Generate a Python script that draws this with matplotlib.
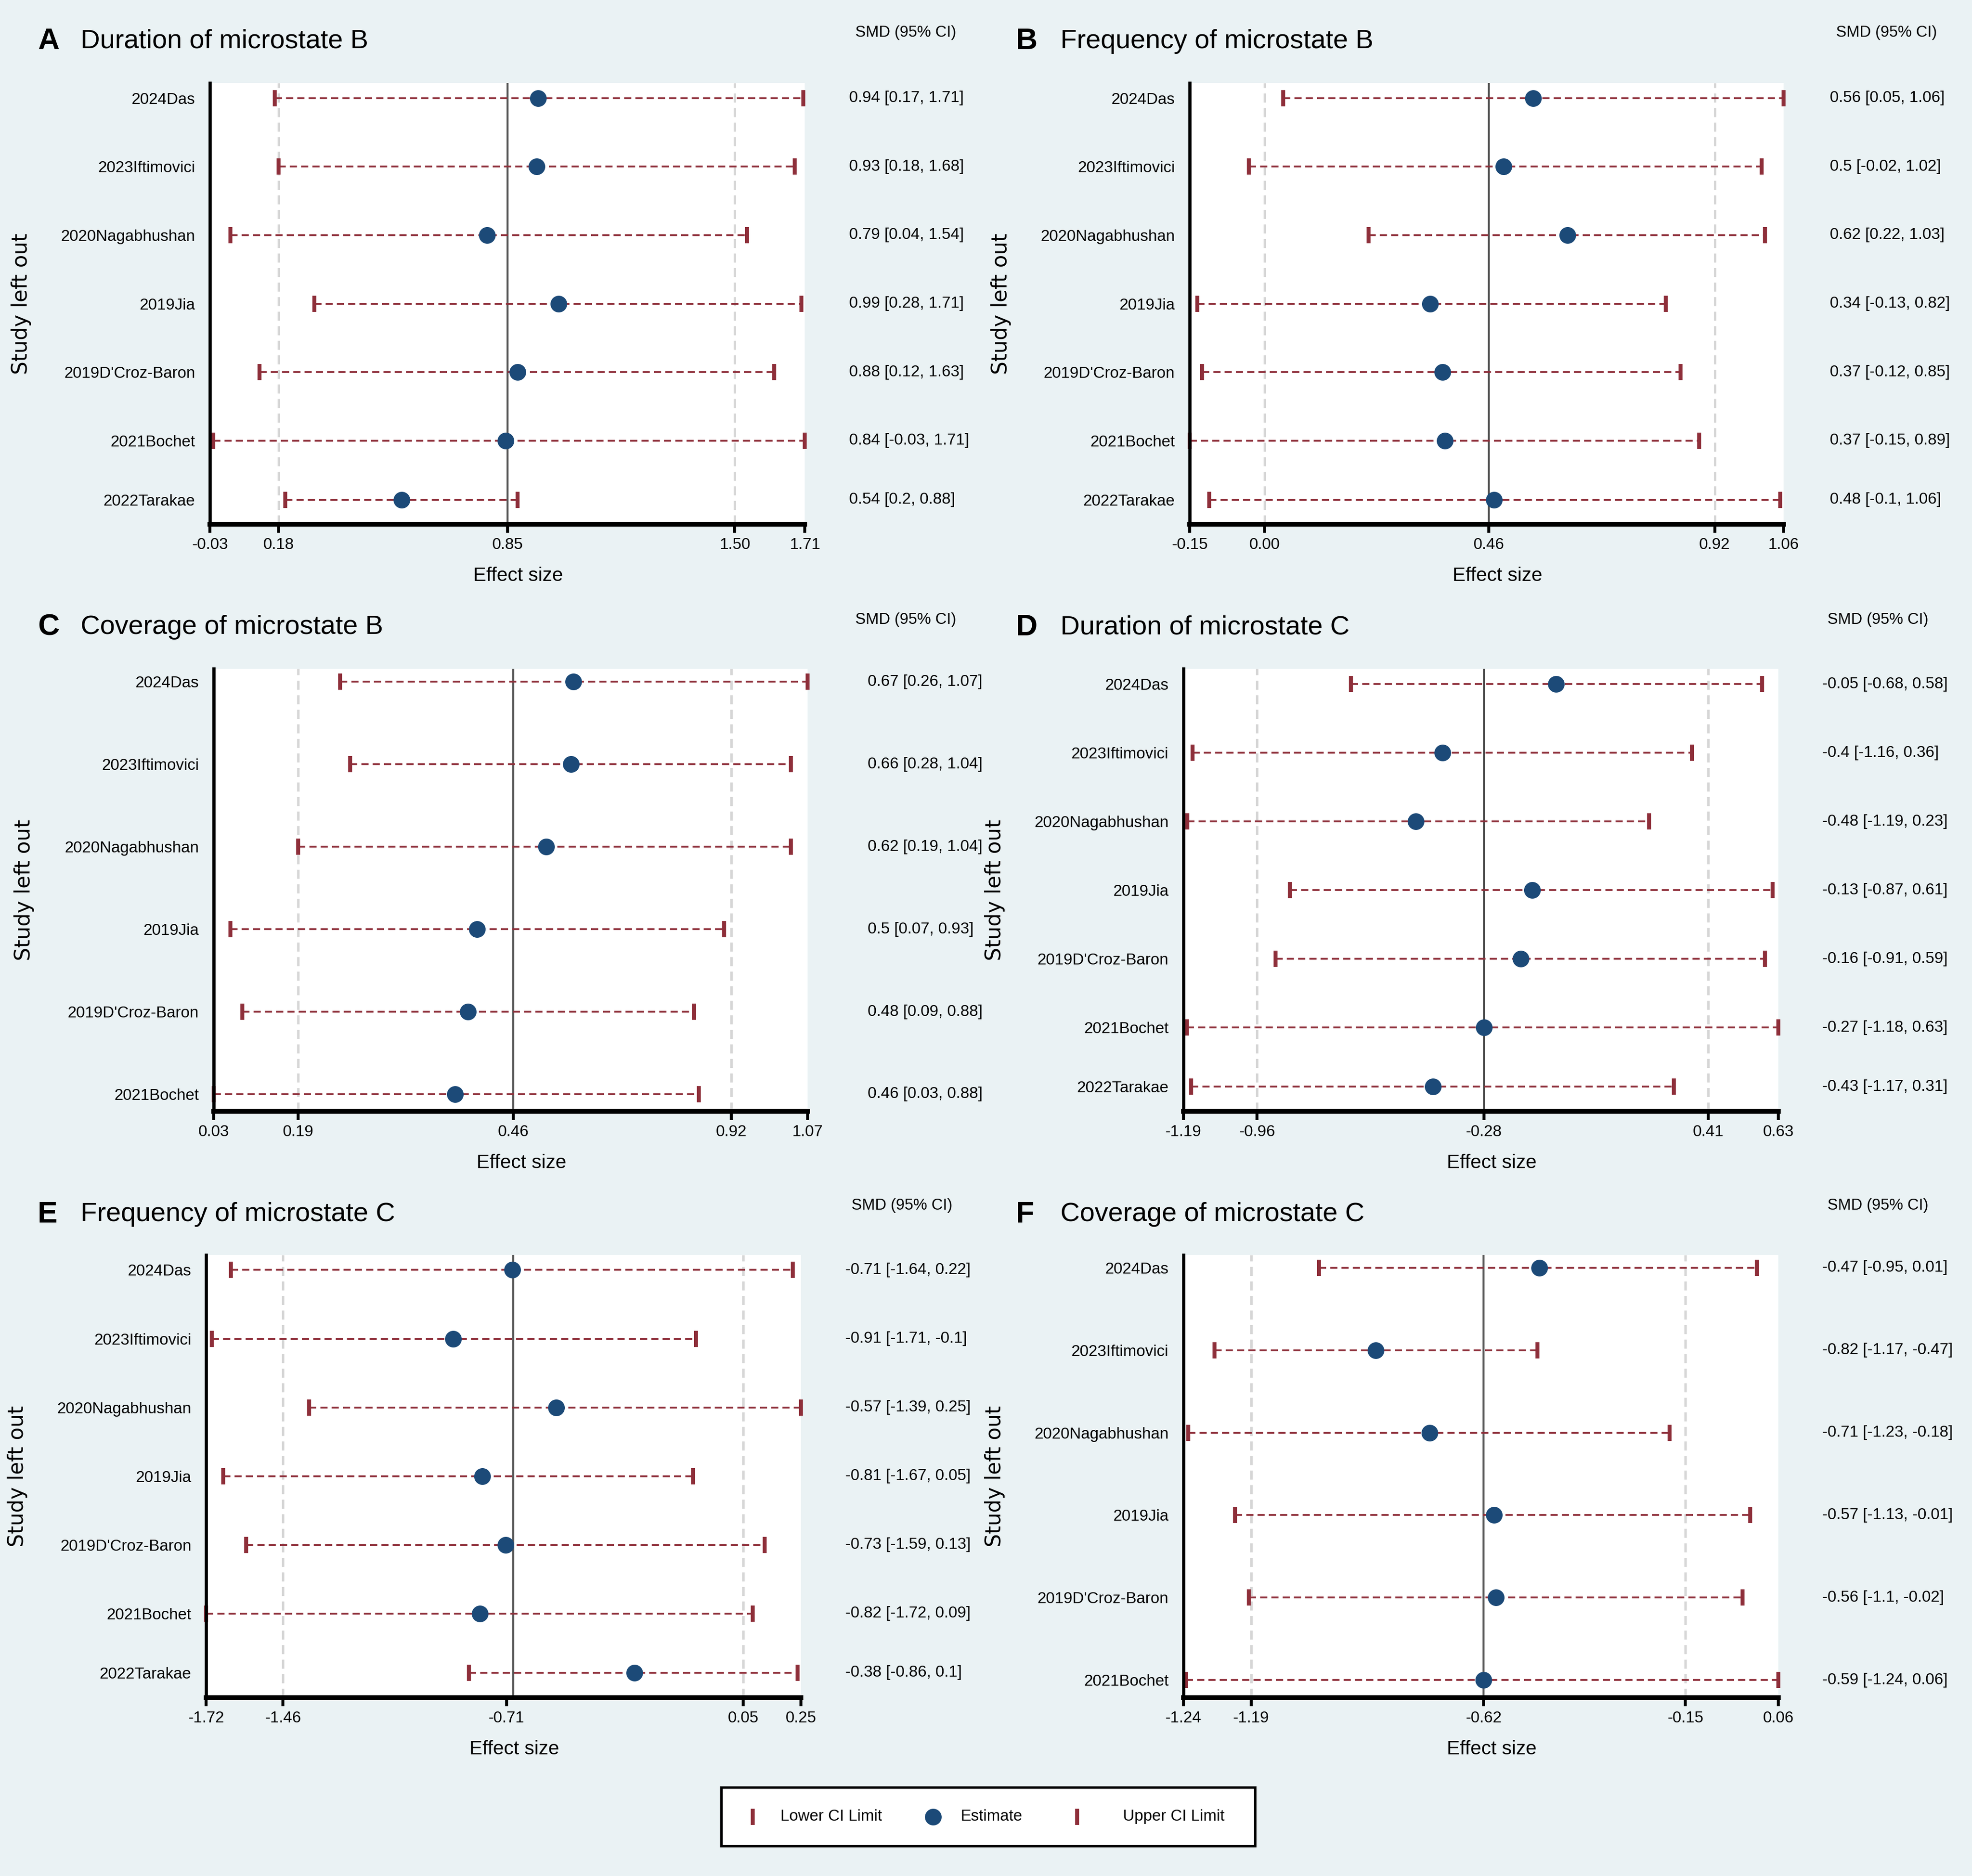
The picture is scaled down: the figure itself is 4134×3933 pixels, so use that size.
import numpy as np
import matplotlib
matplotlib.use("Agg")
import matplotlib.pyplot as plt

plt.rcParams['font.family'] = ['Liberation Sans', 'DejaVu Sans']

# ---------------- data ----------------
studies7 = ["2024Das", "2023Iftimovici", "2020Nagabhushan", "2019Jia",
            "2019D'Croz-Baron", "2021Bochet", "2022Tarakae"]
studies6 = studies7[:6]

titles = ["Duration of microstate B", "Frequency of microstate B",
          "Coverage of microstate B", "Duration of microstate C",
          "Frequency of microstate C", "Coverage of microstate C"]
letters = ["A", "B", "C", "D", "E", "F"]

a_est = [0.93, 0.925, 0.78, 0.99, 0.87, 0.835, 0.53]
a_lo = [0.16, 0.17, 0.03, 0.275, 0.115, -0.02, 0.19]
a_hi = [1.705, 1.68, 1.54, 1.70, 1.62, 1.71, 0.87]
a_ticks = [-0.03, 0.17, 0.84, 1.505, 1.71]
a_ticklabels = ["-0.03", "0.18", "0.85", "1.50", "1.71"]
a_pooled = [0.17, 0.84, 1.505]

b_est = [0.55, 0.49, 0.62, 0.34, 0.365, 0.37, 0.47]
b_lo = [0.04, -0.03, 0.215, -0.135, -0.125, -0.15, -0.11]
b_hi = [1.06, 1.016, 1.023, 0.82, 0.85, 0.888, 1.054]
b_ticks = [-0.15, 0.003, 0.46, 0.92, 1.06]
b_ticklabels = ["-0.15", "0.00", "0.46", "0.92", "1.06"]
b_pooled = [0.003, 0.46, 0.92]

c_est = [0.66, 0.656, 0.612, 0.491, 0.475, 0.453]
c_lo = [0.251, 0.269, 0.178, 0.059, 0.08, 0.03]
c_hi = [1.07, 1.041, 1.041, 0.924, 0.871, 0.88]
c_ticks = [0.03, 0.178, 0.555, 0.937, 1.07]
c_ticklabels = ["0.03", "0.19", "0.46", "0.92", "1.07"]
c_pooled = [0.178, 0.555, 0.937]

d_est = [-0.05, -0.398, -0.479, -0.123, -0.158, -0.271, -0.427]
d_lo = [-0.677, -1.162, -1.178, -0.865, -0.908, -1.18, -1.167]
d_hi = [0.58, 0.366, 0.235, 0.613, 0.589, 0.63, 0.31]
d_ticks = [-1.19, -0.965, -0.271, 0.415, 0.63]
d_ticklabels = ["-1.19", "-0.96", "-0.28", "0.41", "0.63"]
d_pooled = [-0.965, -0.271, 0.415]

e_est = [-0.706, -0.903, -0.561, -0.806, -0.728, -0.814, -0.302]
e_lo = [-1.638, -1.702, -1.379, -1.664, -1.588, -1.72, -0.85]
e_hi = [0.223, -0.098, 0.25, -0.108, 0.129, 0.0895, 0.239]
e_ticks = [-1.72, -1.466, -0.726, 0.058, 0.25]
e_ticklabels = ["-1.72", "-1.46", "-0.71", "0.05", "0.25"]
e_pooled = [-1.466, -0.704, 0.058]

f_est = [-0.462, -0.82, -0.702, -0.561, -0.557, -0.584]
f_lo = [-0.944, -1.172, -1.229, -1.127, -1.097, -1.235]
f_hi = [0.013, -0.466, -0.178, -0.001, -0.018, 0.06]
f_ticks = [-1.24, -1.092, -0.584, -0.143, 0.06]
f_ticklabels = ["-1.24", "-1.19", "-0.62", "-0.15", "0.06"]
f_pooled = [-1.092, -0.584, -0.143]

# SMD (95% CI) column, as printed
ci_a = ["0.94 [0.17, 1.71]", "0.93 [0.18, 1.68]", "0.79 [0.04, 1.54]", "0.99 [0.28, 1.71]",
        "0.88 [0.12, 1.63]", "0.84 [-0.03, 1.71]", "0.54 [0.2, 0.88]"]
ci_b = ["0.56 [0.05, 1.06]", "0.5 [-0.02, 1.02]", "0.62 [0.22, 1.03]", "0.34 [-0.13, 0.82]",
        "0.37 [-0.12, 0.85]", "0.37 [-0.15, 0.89]", "0.48 [-0.1, 1.06]"]
ci_c = ["0.67 [0.26, 1.07]", "0.66 [0.28, 1.04]", "0.62 [0.19, 1.04]", "0.5 [0.07, 0.93]",
        "0.48 [0.09, 0.88]", "0.46 [0.03, 0.88]"]
ci_d = ["-0.05 [-0.68, 0.58]", "-0.4 [-1.16, 0.36]", "-0.48 [-1.19, 0.23]", "-0.13 [-0.87, 0.61]",
        "-0.16 [-0.91, 0.59]", "-0.27 [-1.18, 0.63]", "-0.43 [-1.17, 0.31]"]
ci_e = ["-0.71 [-1.64, 0.22]", "-0.91 [-1.71, -0.1]", "-0.57 [-1.39, 0.25]", "-0.81 [-1.67, 0.05]",
        "-0.73 [-1.59, 0.13]", "-0.82 [-1.72, 0.09]", "-0.38 [-0.86, 0.1]"]
ci_f = ["-0.47 [-0.95, 0.01]", "-0.82 [-1.17, -0.47]", "-0.71 [-1.23, -0.18]", "-0.57 [-1.13, -0.01]",
        "-0.56 [-1.1, -0.02]", "-0.59 [-1.24, 0.06]"]

panels = [
    (studies7, a_est, a_lo, a_hi, a_ticks, a_ticklabels, a_pooled, ci_a),
    (studies7, b_est, b_lo, b_hi, b_ticks, b_ticklabels, b_pooled, ci_b),
    (studies6, c_est, c_lo, c_hi, c_ticks, c_ticklabels, c_pooled, ci_c),
    (studies7, d_est, d_lo, d_hi, d_ticks, d_ticklabels, d_pooled, ci_d),
    (studies7, e_est, e_lo, e_hi, e_ticks, e_ticklabels, e_pooled, ci_e),
    (studies6, f_est, f_lo, f_hi, f_ticks, f_ticklabels, f_pooled, ci_f),
]

# ---------------- style ----------------
BG = "#EAF2F4"
DOT = "#1C4A78"
RED = "#8E2F3A"
GRID = "#D6D6D6"
MID = "#555555"

W, H = 1568.0, 1492.0
fig = plt.figure(figsize=(4134 / 300, 3933 / 300), dpi=300, facecolor=BG)

def fx(x):
    return x / W

def fy(y):
    return 1 - y / H

# layout in reference-display pixel units: (left, right, top, bottom)
boxes = [(167, 640, 66, 417), (946, 1418, 66, 417),
         (170, 642, 532, 884), (941, 1414, 532, 884),
         (164, 637, 998, 1350), (941, 1414, 998, 1350)]
ci_x = [675, 1455, 690, 1449, 672, 1449]
smd_x = [680, 1460, 680, 1453, 677, 1453]
ylab_x = [17, 796, 19, 791, 14, 791]
title_y = [33, 33, 499, 499, 966, 966]
smd_y = [26, 26, 493, 493, 959, 959]

for i, (studies, est, lo, hi, ticks, ticklabels, pooled, ci) in enumerate(panels):
    l, r, t, b = boxes[i]
    ax = fig.add_axes([fx(l), fy(b), fx(r) - fx(l), fy(t) - fy(b)])
    ax.set_facecolor("white")
    n = len(studies)
    y = np.arange(n, dtype=float)
    if n == 7:
        y[-1] = n - 1 - 0.14
        ax.set_ylim(y[-1] + 0.36, -0.22)
    else:
        ax.set_ylim(n - 1 + 0.21, -0.155)
    ax.set_xlim(ticks[0], ticks[-1])

    # pooled reference lines
    ax.axvline(pooled[0], color=GRID, lw=1.2, dashes=(3.8, 2.3), zorder=1)
    ax.axvline(pooled[2], color=GRID, lw=1.2, dashes=(3.8, 2.3), zorder=1)
    ax.axvline(pooled[1], color=MID, lw=1.0, zorder=2)

    for yi, lo_, hi_ in zip(y, lo, hi):
        ax.plot([lo_, hi_], [yi, yi], color=RED, lw=0.9, dashes=(4.0, 2.3), zorder=3)
    ax.plot(lo, y, linestyle="none", marker="|", markersize=8, mew=2.0, color=RED,
            zorder=4, clip_on=False)
    ax.plot(hi, y, linestyle="none", marker="|", markersize=8, mew=2.0, color=RED,
            zorder=4, clip_on=False)
    ax.plot(est, y, linestyle="none", marker="o", markersize=7.4, color=DOT,
            markeredgecolor=DOT, zorder=5, clip_on=False)

    ax.set_yticks(y)
    ax.set_yticklabels(studies, fontsize=8)
    ax.tick_params(axis="y", length=0, pad=7.5)
    ax.set_xticks(ticks)
    ax.set_xticklabels(ticklabels, fontsize=8)
    ax.tick_params(axis="x", length=4.2, width=1.5, direction="out", pad=2.5, color="black")
    for s in ["top", "right"]:
        ax.spines[s].set_visible(False)
    ax.spines["bottom"].set_linewidth(2.4)
    ax.spines["left"].set_linewidth(1.6)
    ax.spines["bottom"].set_zorder(6)
    ax.spines["left"].set_zorder(6)

    # effect size label
    fig.text(fx((l + r) / 2 + 8.5), fy(b + 41), "Effect size", fontsize=9.8,
             ha="center", va="center")
    # y label
    fig.text(fx(ylab_x[i]), fy((t + b) / 2), "Study left out", fontsize=10.5,
             family=["DejaVu Sans"], rotation=90, ha="center", va="center")
    # panel letter and title
    lx = 30 if i % 2 == 0 else 808
    tx = 64 if i % 2 == 0 else 843
    fig.text(fx(lx), fy(title_y[i]), letters[i], fontsize=15, fontweight="bold",
             ha="left", va="center")
    fig.text(fx(tx), fy(title_y[i]), titles[i], fontsize=13.5, ha="left", va="center")
    fig.text(fx(smd_x[i]), fy(smd_y[i]), "SMD (95% CI)", fontsize=7.9,
             ha="left", va="center")
    # CI text column
    for yi, s in zip(y, ci):
        disp = ax.transData.transform((0, yi))
        yf = fig.transFigure.inverted().transform(disp)[1]
        fig.text(fx(ci_x[i]), yf, s, fontsize=8, ha="left", va="center")

# ---------------- legend ----------------
lax = fig.add_axes([fx(573.5), fy(1468), fx(998) - fx(573.5), fy(1421.6) - fy(1468)])
lax.set_facecolor("white")
lax.set_xlim(573.5, 998)
lax.set_ylim(0, 1)
lax.set_xticks([])
lax.set_yticks([])
for s in lax.spines.values():
    s.set_linewidth(1.2)
    s.set_color("black")
lax.plot([598.7], [0.5], marker="|", markersize=8, mew=2.0, color=RED, linestyle="none")
lax.plot([741.8], [0.5], marker="o", markersize=7.4, color=DOT, linestyle="none")
lax.plot([856.6], [0.5], marker="|", markersize=8, mew=2.0, color=RED, linestyle="none")
lax.text(620.7, 0.5, "Lower CI Limit", fontsize=8, ha="left", va="center")
lax.text(763.8, 0.5, "Estimate", fontsize=8, ha="left", va="center")
lax.text(892.8, 0.5, "Upper CI Limit", fontsize=8, ha="left", va="center")

fig.savefig("out.png", dpi=300, facecolor=BG)
